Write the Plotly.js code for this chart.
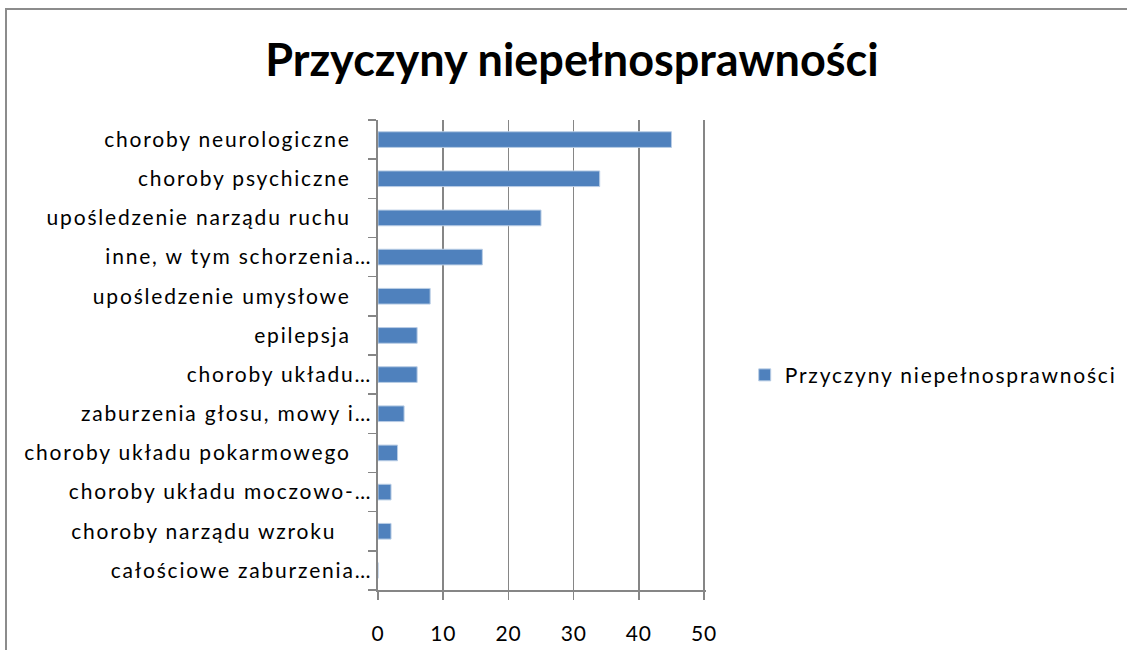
<!DOCTYPE html>
<html>
<head>
<meta charset="utf-8">
<script src="https://cdn.plot.ly/plotly-3.0.1.min.js"></script>
<style>
  html, body { margin: 0; padding: 0; background: #fff; }
  #frame { position: absolute; left: 5px; top: 8px; width: 1200px; height: 800px; border: 2px solid #8c8c8c; box-sizing: border-box; }
  #chart { position: absolute; left: 0; top: 0; width: 1127px; height: 650px; }
  #chart .ytick text, #chart .legendtext { letter-spacing: 1.8px; }
  #chart .xtick text { letter-spacing: 0.8px; }
  #chart .legend, #chart .legend * { clip-path: none !important; }
</style>
</head>
<body>
<div id="frame"></div>
<div id="chart"></div>
<script>
const categories = [
  "choroby neurologiczne",
  "choroby psychiczne",
  "upośledzenie narządu ruchu",
  "inne, w tym schorzenia…",
  "upośledzenie umysłowe",
  "epilepsja",
  "choroby układu…",
  "zaburzenia głosu, mowy i…",
  "choroby układu pokarmowego",
  "choroby układu moczowo-…",
  "choroby narządu wzroku",
  "całościowe zaburzenia…"
];
const values = [45, 34, 25, 16, 8, 6, 6, 4, 3, 2, 2, 0];
const seriesName = "Przyczyny niepełnosprawności";
const chartTitle = "Przyczyny niepełnosprawności";
const xTicks = [0, 10, 20, 30, 40, 50];

// trailing spaces of the original labels (truncated labels have none)
const trailingSpaces = [3, 3, 3, 0, 3, 3, 0, 0, 3, 0, 5, 0];
const tickText = categories.map((c, i) => c + "\u00a0".repeat(trailingSpaces[i]));

const FONT = "Lato, 'Open Sans', sans-serif";
const GRID = "#868686";

const trace = {
  type: "bar",
  orientation: "h",
  y: categories,
  x: values,
  name: seriesName,
  showlegend: true,
  marker: { color: "#4F81BD", line: { color: "#B9CDE5", width: 1 } },
  hoverinfo: "x+y"
};

const layout = {
  width: 1127,
  height: 650,
  paper_bgcolor: "rgba(0,0,0,0)",
  plot_bgcolor: "rgba(0,0,0,0)",
  margin: { l: 378, r: 421, t: 120, b: 60 },
  bargap: 0.6,
  title: {
    text: "<b>" + chartTitle + "</b>",
    font: { family: FONT, size: 45, color: "#000" },
    x: 0.5075, xref: "container", xanchor: "center",
    y: 0.908, yref: "container", yanchor: "middle"
  },
  xaxis: {
    range: [0, 50.3],
    tickvals: xTicks,
    ticktext: xTicks.map(String),
    showgrid: true,
    gridcolor: GRID,
    gridwidth: 1.6,
    zeroline: false,
    showline: true,
    linecolor: GRID,
    linewidth: 1.6,
    ticks: "outside",
    ticklen: 8,
    tickcolor: GRID,
    tickwidth: 1.6,
    ticklabelstandoff: 16,
    tickfont: { family: FONT, size: 21, color: "#000" },
    fixedrange: true
  },
  yaxis: {
    type: "category",
    autorange: "reversed",
    tickvals: categories,
    ticktext: tickText,
    showgrid: false,
    zeroline: false,
    showline: true,
    linecolor: GRID,
    linewidth: 1.6,
    ticks: "outside",
    tickson: "boundaries",
    ticklen: 8,
    tickcolor: GRID,
    tickwidth: 1.6,
    ticklabelstandoff: 0,
    tickfont: { family: FONT, size: 21, color: "#000" },
    fixedrange: true
  },
  legend: {
    x: 1.118, xref: "paper", xanchor: "left",
    y: 0.457, yref: "paper", yanchor: "middle",
    font: { family: FONT, size: 21, color: "#000" },
    bgcolor: "rgba(0,0,0,0)"
  }
};

Plotly.newPlot("chart", [trace], layout, { displayModeBar: false, staticPlot: true });
</script>
</body>
</html>
